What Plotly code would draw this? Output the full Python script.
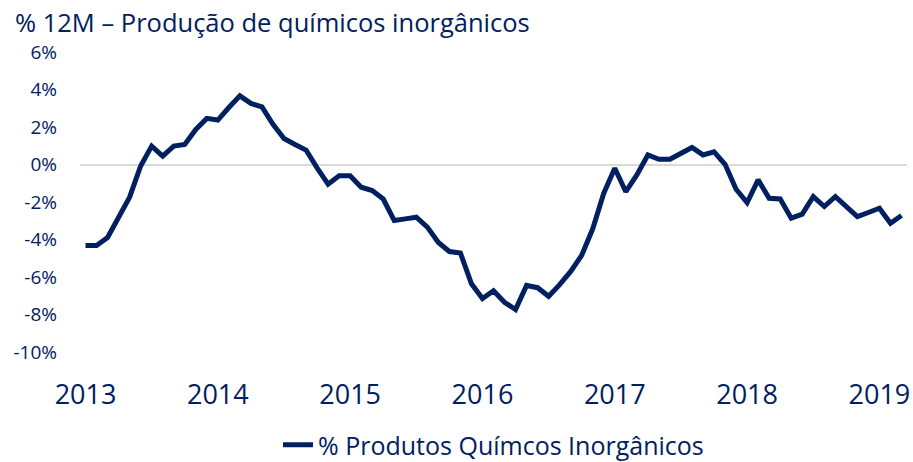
import plotly.graph_objects as go

# Monthly observations Jan 2013 .. Mar 2019
months = [f"{y}-{m:02d}" for y in range(2013, 2020) for m in range(1, 13)][:75]
values = [
    -4.32, -4.32, -3.89, -2.80, -1.74, -0.08, 0.98, 0.45, 0.98, 1.07, 1.87, 2.46,
    2.37, 3.04, 3.66, 3.26, 3.07, 2.14, 1.39, 1.07, 0.77, -0.18, -1.05, -0.60,
    -0.60, -1.21, -1.39, -1.84, -2.99, -2.90, -2.81, -3.34, -4.16, -4.64, -4.72, -6.36,
    -7.15, -6.73, -7.35, -7.74, -6.45, -6.57, -7.03, -6.41, -5.70, -4.84, -3.43, -1.53,
    -0.20, -1.45, -0.56, 0.51, 0.28, 0.28, 0.63, 0.91, 0.51, 0.68, 0.01, -1.32,
    -2.03, -0.82, -1.80, -1.84, -2.86, -2.65, -1.71, -2.24, -1.71, -2.21, -2.78, -2.56,
    -2.33, -3.13, -2.72,
]
year_ticks = ["2013-01", "2014-01", "2015-01", "2016-01", "2017-01", "2018-01", "2019-01"]
year_labels = ["2013", "2014", "2015", "2016", "2017", "2018", "2019"]
y_ticks = [-10, -8, -6, -4, -2, 0, 2, 4, 6]
y_labels = ["-10%", "-8%", "-6%", "-4%", "-2%", "0%", "2%", "4%", "6%"]

navy = "#002060"
font = "Open Sans"

W, H = 913, 462

fig = go.Figure()
fig.add_trace(go.Scatter(
    x=months, y=values, mode="lines",
    name="% Produtos Químcos Inorgânicos",
    line=dict(color=navy, width=5),
))

fig.update_layout(
    width=W, height=H,
    margin=dict(l=80, r=6, t=52, b=110, autoexpand=False),
    paper_bgcolor="white", plot_bgcolor="white",
    font=dict(family=font, color=navy),
    title=dict(
        text="% 12M – Produção de químicos inorgânicos",
        x=15 / W, xref="container", xanchor="left",
        y=1 - 23 / H, yref="container", yanchor="middle",
        font=dict(family=font, size=25.5, color=navy),
    ),
    showlegend=True,
    legend=dict(
        orientation="h", x=0.5, xanchor="center",
        y=-0.31, yanchor="middle",
        font=dict(family=font, size=25, color=navy),
    ),
    xaxis=dict(
        type="category", range=[-0.5, 74.5],
        tickvals=year_ticks, ticktext=year_labels,
        showgrid=False, zeroline=False, showline=False, ticks="",
        tickfont=dict(family=font, size=27, color=navy),
        ticklabelstandoff=24, automargin=False,
    ),
    yaxis=dict(
        range=[-10, 6], tickvals=y_ticks, ticktext=y_labels,
        showgrid=False, zeroline=True, zerolinecolor="#D9D9D9", zerolinewidth=1.5,
        showline=False, ticks="",
        tickfont=dict(family=font, size=19, color=navy),
        ticklabelstandoff=22, automargin=False,
    ),
)

# remove the browser's default 8px page margin so the figure fills the window
fig.write_html(
    "out.html",
    config={"displayModeBar": False},
    post_script="document.body.style.margin='0';document.body.style.overflow='hidden';",
)
